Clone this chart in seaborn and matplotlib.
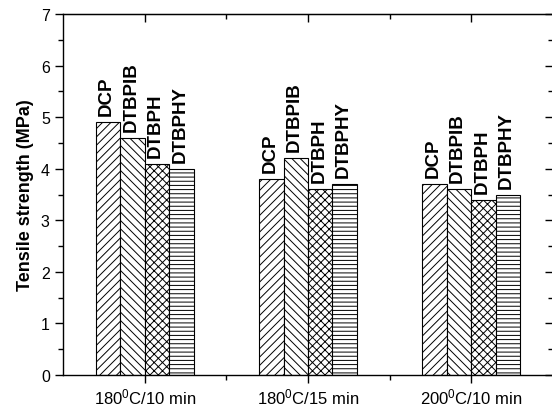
import pandas as pd
import matplotlib
matplotlib.use("Agg")
import matplotlib.pyplot as plt
import seaborn as sns
from matplotlib.ticker import FixedLocator, MultipleLocator

conditions = ["180$^{\\mathrm{0}}$C/10 min", "180$^{\\mathrm{0}}$C/15 min", "200$^{\\mathrm{0}}$C/10 min"]
agents = ["DCP", "DTBPIB", "DTBPH", "DTBPHY"]
dcp = [4.9, 3.8, 3.7]
dtbpib = [4.6, 4.2, 3.6]
dtbph = [4.1, 3.6, 3.4]
dtbphy = [4.0, 3.7, 3.5]
hatches = ["////", "\\\\\\\\", "xxxx", "----"]

sns.set_style("ticks")
plt.rcParams["font.family"] = ["Liberation Sans", "DejaVu Sans"]
plt.rcParams["mathtext.fontset"] = "custom"
plt.rcParams["mathtext.rm"] = "Liberation Sans"
plt.rcParams["mathtext.it"] = "Liberation Sans"
plt.rcParams["hatch.linewidth"] = 0.7
plt.rcParams["hatch.color"] = "black"
for key in ["text.color", "axes.labelcolor", "xtick.color", "ytick.color", "axes.edgecolor"]:
    plt.rcParams[key] = "black"

rows = []
for vals, agent in zip([dcp, dtbpib, dtbph, dtbphy], agents):
    for cond, v in zip(conditions, vals):
        rows.append({"condition": cond, "agent": agent, "strength": v})
df = pd.DataFrame(rows)

fig = plt.figure(figsize=(5.52, 4.10), dpi=100)
ax = fig.add_axes([63 / 552, 1 - 376 / 410, 490 / 552, 361 / 410])

sns.barplot(data=df, x="condition", y="strength", hue="agent", order=conditions,
            hue_order=agents, width=0.6, palette=["white"] * 4, saturation=1,
            edgecolor="black", linewidth=0.8, legend=False, errorbar=None, ax=ax)

for cont, h, agent in zip(ax.containers, hatches, agents):
    for bar in cont:
        bar.set_hatch(h)
        ax.annotate(agent, (bar.get_x() + bar.get_width() / 2, bar.get_height()),
                    xytext=(-1, 5), textcoords="offset points", rotation=90,
                    ha="center", va="bottom", fontsize=13.5, fontweight="bold")

ax.set_xlim(-0.5, 2.5)
ax.set_ylim(0, 7)
ax.set_xlabel("")
ax.set_ylabel("Tensile strength (MPa)", fontsize=13, fontweight="bold", labelpad=5)
ax.yaxis.set_major_locator(MultipleLocator(1))
ax.yaxis.set_minor_locator(MultipleLocator(0.5))
ax.xaxis.set_minor_locator(FixedLocator([0.5, 1.5]))
ax.tick_params(axis="x", labelsize=12, pad=2)
ax.tick_params(axis="y", labelsize=11.5)
ax.tick_params(which="major", direction="out", length=6, width=1)
ax.tick_params(which="minor", direction="out", length=3.5, width=1)
for s in ax.spines.values():
    s.set_linewidth(1)
    s.set_visible(True)

top = ax.secondary_xaxis("top")
top.set_xticks([0, 1, 2])
top.set_xticklabels([])
top.xaxis.set_minor_locator(FixedLocator([0.5, 1.5]))
top.tick_params(which="major", direction="in", length=6, width=1)
top.tick_params(which="minor", direction="in", length=3.5, width=1)

right = ax.secondary_yaxis("right")
right.yaxis.set_major_locator(MultipleLocator(1))
right.yaxis.set_minor_locator(MultipleLocator(0.5))
right.set_yticklabels([])
right.tick_params(which="major", direction="in", length=6, width=1)
right.tick_params(which="minor", direction="in", length=3.5, width=1)

fig.savefig("out.png", dpi=100)
